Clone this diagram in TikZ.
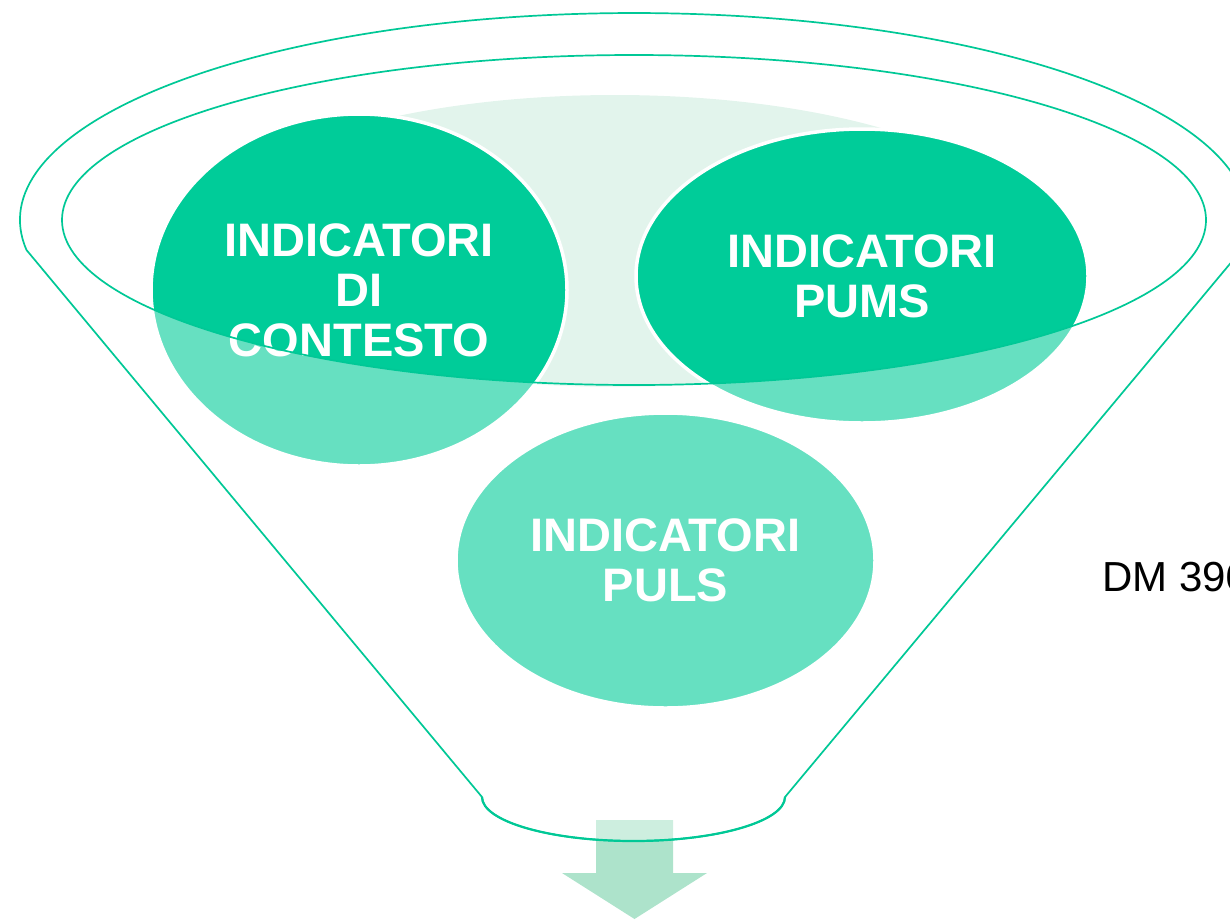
\documentclass[tikz,border=0pt]{standalone}
\usepackage{fontspec}
\setmainfont{Liberation Sans}
\usetikzlibrary{shapes.geometric}
\definecolor{fgreen}{HTML}{00CC99}
\definecolor{fline}{HTML}{00C896}
\definecolor{flight}{HTML}{E2F4EC}
\definecolor{farrow}{HTML}{ADE3CB}
\begin{document}
\begin{tikzpicture}[x=1pt,y=-1pt,
  bubble/.style={ellipse, fill=fgreen, draw=white, line width=3.5pt, inner sep=0pt,
    text=white, font=\fontsize{47}{50}\selectfont\bfseries, align=center},
  rim/.style={draw=fline, line width=1.7pt, line join=round}]
\useasboundingbox (0,0) rectangle (1230,922);
\clip (0,0) rectangle (1230,922);
% liquid surface
\fill[flight] (615,241) ellipse [x radius=420pt, y radius=146pt];
% bubbles
\node[bubble, minimum width=416pt, minimum height=352pt] (ctx) at (359,290) {INDICATORI\\DI\\CONTESTO};
\node[bubble, minimum width=452pt, minimum height=294pt] (pums) at (862,276) {INDICATORI\\PUMS};
\node[bubble, minimum width=419pt, minimum height=295pt] (puls) at (665.5,560.5) {INDICATORI\\PULS};
% arrow
\fill[farrow] (596,820) -- (673,820) -- (673,873) -- (707,873) -- (634.5,919) -- (562,873) -- (596,873) -- cycle;
% translucent funnel body
\fill[white, opacity=0.4, even odd rule]
  (26.5,250) arc[start angle=188.33, end angle=-8.33, x radius=614pt, y radius=207pt]
  -- (785,797) arc[start angle=0, end angle=-180, x radius=151.5pt, y radius=44pt] -- cycle
  (634,220) ellipse [x radius=572pt, y radius=165pt];
% outlines
\draw[rim]
  (26.5,250) arc[start angle=188.33, end angle=-8.33, x radius=614pt, y radius=207pt]
  -- (785,797) arc[start angle=0, end angle=-180, x radius=151.5pt, y radius=44pt] -- cycle;
\draw[rim, line width=2.2pt] (785,797) arc[start angle=0, end angle=-180, x radius=151.5pt, y radius=44pt];
\draw[rim] (634,220) ellipse [x radius=572pt, y radius=165pt];
% side text (cut by the right edge, as in the reference)
\node[anchor=base west, inner sep=0pt, font=\fontsize{42}{50}\selectfont] (dm) at (1102,591) {DM 396};
\end{tikzpicture}
\end{document}
